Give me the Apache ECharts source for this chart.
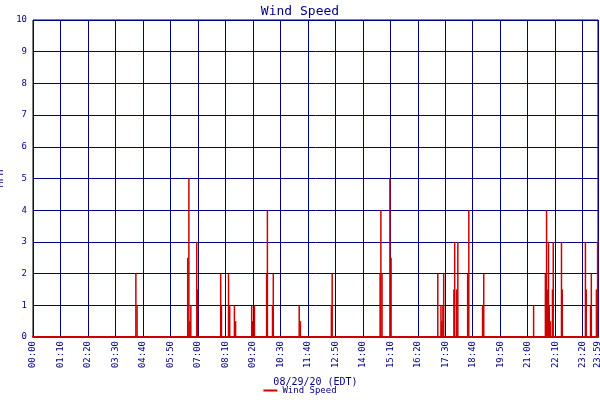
<!DOCTYPE html>
<html><head><meta charset="utf-8">
<script src="https://cdn.jsdelivr.net/npm/echarts@6/dist/echarts.min.js"></script>
<style>html,body{margin:0;padding:0;background:#fff}#c{width:600px;height:400px}</style>
</head><body><div id="c"></div>
<script>
// minute of day, MPH
const eventMinutes = [262,265,394,397,399,402,417,419,478,480,498,501,513,516,557,559,564,595,597,610,612,678,681,760,762,884,886,889,909,912,1031,1039,1041,1044,1046,1072,1074,1079,1082,1107,1110,1145,1148,1275,1305,1308,1310,1313,1315,1318,1323,1325,1346,1348,1407,1409,1420,1422,1435,1438];
const eventValues  = [2,1,2.5,5,0.5,1,3,1.5,2,1,2,1,1,0.5,1,0.5,1,2,4,1,2,1,0.5,1,2,2,4,2,5,2.5,2,1,0.5,1,2,1.5,3,1.5,3,2,4,1,2,1,2,4,1.5,3,1,0.5,1.5,3,3,1.5,3,1.5,1,2,1.5,3];
const tickMinutes = [0,70,140,210,280,350,420,490,560,630,700,770,840,910,980,1050,1120,1190,1260,1330,1400,1439];
const yTicks = [0,1,2,3,4,5,6,7,8,9,10];

const speed = [];
for (let m = 0; m < 1440; m++) speed.push([m, 0]);
eventMinutes.forEach((m, i) => { speed[m] = [m, eventValues[i]]; });

function fmt(m){ if(m>=1439) return '23:59'; const h=Math.floor(m/60), mm=m%60; return String(h).padStart(2,'0')+':'+String(mm).padStart(2,'0'); }
const F = 'DejaVu Sans Mono';
const chart = echarts.init(document.getElementById('c'));
chart.setOption({
  animation:false,
  backgroundColor:'#fff',
  title:{text:'Wind Speed',left:'center',top:0,textStyle:{fontFamily:F,fontSize:13,fontWeight:'normal',color:'#000080'}},
  legend:{bottom:0,left:'center',itemWidth:14,itemHeight:2,icon:'rect',textStyle:{fontFamily:F,fontSize:9,color:'#000080'},data:['Wind Speed']},
  grid:{left:33,right:2,top:20,bottom:63,show:true,borderColor:'#000',borderWidth:1,containLabel:false,outerBoundsMode:'none'},
  xAxis:[{type:'value',min:0,max:1439,interval:70,
    name:'08/29/20 (EDT)',nameLocation:'middle',nameGap:40,nameTextStyle:{fontFamily:F,fontSize:10,color:'#000080'},
    axisLine:{show:true,lineStyle:{color:'#cc0000',width:2}},
    axisTick:{show:false},
    splitLine:{show:true,lineStyle:{color:'#000080',width:1}},
    axisLabel:{show:false}},
   {type:'value',min:0,max:1439,position:'bottom',
    axisLine:{show:false},axisTick:{show:false},splitLine:{show:false},
    axisLabel:{customValues:tickMinutes,rotate:90,fontFamily:F,fontSize:9,color:'#000080',formatter:fmt,margin:4}}],
  yAxis:{type:'value',min:0,max:10,interval:1,
    name:'MPH',nameLocation:'middle',nameGap:22,nameTextStyle:{fontFamily:F,fontSize:10,color:'#000080'},
    axisLine:{show:false},axisTick:{show:false},
    splitLine:{show:true,lineStyle:{color:'#000080',width:1}},
    axisLabel:{fontFamily:F,fontSize:9,color:'#000080',margin:6,formatter:v=>String(v)}},
  series:[{name:'Wind Speed',type:'bar',data:speed,barWidth:1.5,itemStyle:{color:'#cc0000'},clip:false}]
});
</script></body></html>
